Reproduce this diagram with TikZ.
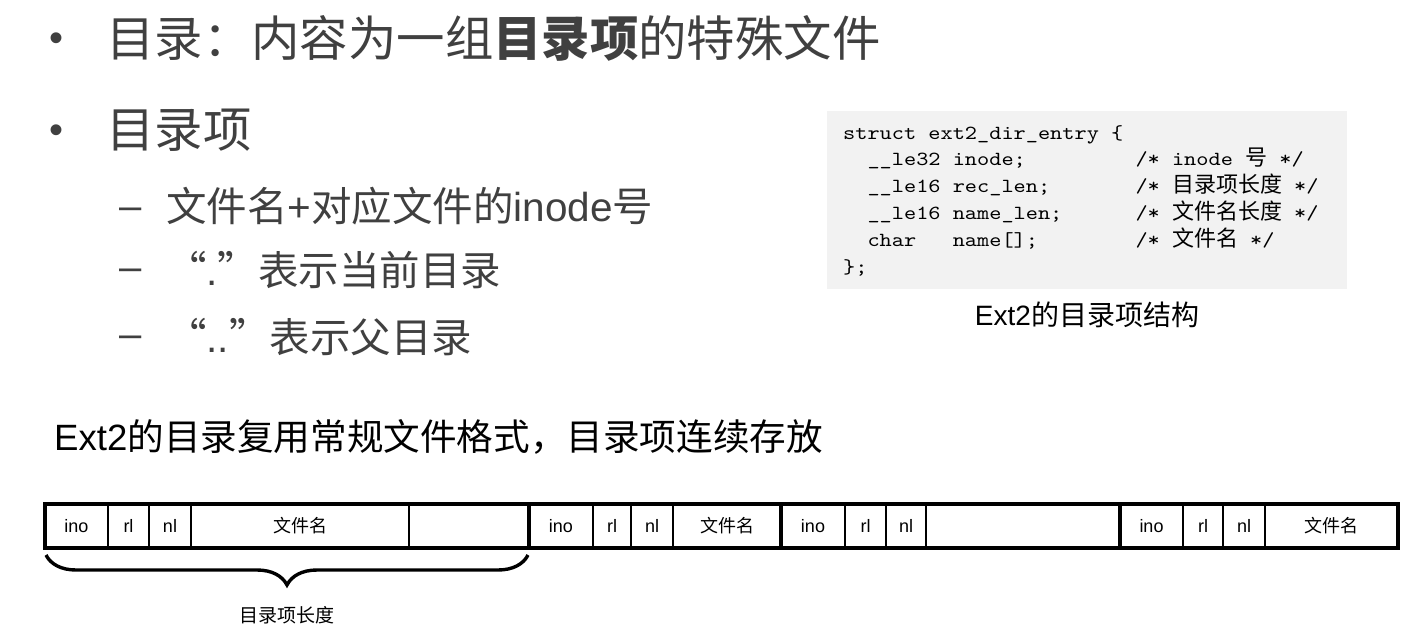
\documentclass[tikz,border=0pt]{standalone}
\usepackage{fontspec}
\setmainfont{Noto Sans CJK SC}
\newfontfamily\lat{Liberation Sans}
\setmonofont{lmmono10-regular}[Extension=.otf, FakeStretch=1.16]
\usetikzlibrary{decorations.pathreplacing}

\definecolor{slidegray}{RGB}{64,64,64}
\definecolor{codebg}{RGB}{242,242,242}
\newcommand{\fsz}[1]{\fontsize{#1}{#1}\selectfont}
\newcommand{\zh}[1]{{\rmfamily\fsz{22}#1}}

\begin{document}
\begin{tikzpicture}[x=1pt, y=-1pt,
    dotmark/.style={text=slidegray, font=\lat\fsz{40}, inner sep=0pt},
    topitem/.style={anchor=west, text=slidegray, font=\fsz{48.4}, inner sep=0pt},
    subitem/.style={anchor=west, text=slidegray, font=\fsz{40.5}, inner sep=0pt},
    codeline/.style={anchor=base west, font=\ttfamily\fsz{20}, inner sep=0pt},
    celltext/.style={font=\fsz{18}, inner sep=0pt},
    cellline/.style={line width=1.5pt},
    recline/.style={line width=4pt}]

  \useasboundingbox (0,0) rectangle (1409,630);

  %% ---- bullet list ----
  \node[dotmark] (dot1) at (57,42)  {•};
  \node[topitem] (item1) at (106,38) {目录：内容为一组\textbf{目录项}的特殊文件};
  \node[dotmark] (dot2) at (57,134) {•};
  \node[topitem] (item2) at (106,130) {目录项};

  \node[dotmark] (dash1) at (131,214) {–};
  \node[subitem] (sub1) at (166,206) {文件名{\lat +}对应文件的{\lat inode}号};
  \node[dotmark] (dash2) at (131,275) {–};
  \node[subitem] (sub2) at (166,270) {“{\lat .}”表示当前目录};
  \node[dotmark] (dash3) at (131,342) {–};
  \node[subitem] (sub3) at (166,337) {“{\lat ..}”表示父目录};

  %% ---- struct box ----
  \fill[codebg] (827,111) rectangle (1347,289);
  \node[codeline] (code1) at (843,139)   {struct ext2\_dir\_entry \{};
  \node[codeline] (code2) at (843,165.8) {\ \ \_\_le32 inode;\ \ \ \ \ \ \ \ \ /* inode \zh{号} */};
  \node[codeline] (code3) at (843,192.6) {\ \ \_\_le16 rec\_len;\ \ \ \ \ \ \ /* \zh{目录项长度} */};
  \node[codeline] (code4) at (843,219.4) {\ \ \_\_le16 name\_len;\ \ \ \ \ \ /* \zh{文件名长度} */};
  \node[codeline] (code5) at (843,246.2) {\ \ char\ \ \ name[];\ \ \ \ \ \ \ \ /* \zh{文件名} */};
  \node[codeline] (code6) at (843,273)   {\};};
  \node[font=\fsz{28}, inner sep=0pt] (caption) at (1087,315) {{\lat Ext2}的目录项结构};

  %% ---- layout sentence ----
  \node[anchor=west, font=\fsz{36.6}, inner sep=0pt] (reuse) at (54,437)
    {{\lat Ext2}的目录复用常规文件格式，目录项连续存放};

  %% ---- directory entries ----
  \foreach \l/\r/\t [count=\i] in {45/108/{\lat ino}, 108/149/{\lat rl}, 149/191/{\lat nl}, 191/409/文件名, 409/529/,
      529/593/{\lat ino}, 593/631/{\lat rl}, 631/673/{\lat nl}, 673/781/文件名,
      781/845/{\lat ino}, 845/886/{\lat rl}, 886/926/{\lat nl}, 926/1120/,
      1120/1183/{\lat ino}, 1183/1223/{\lat rl}, 1223/1265/{\lat nl}, 1265/1398/文件名}{
    \draw[cellline] (\l,504) rectangle (\r,548);
    \node[celltext] (cell\i) at ({(\l+\r)/2},526) {\t};
  }
  \foreach \l/\r in {45/529, 529/781, 781/1120, 1120/1398}
    \draw[recline] (\l,504) rectangle (\r,548);

  %% ---- rec_len brace ----
  \coordinate (rec1w) at (46,555);
  \coordinate (rec1e) at (528,555);
  \draw[line width=3.4pt, decorate, decoration={brace, mirror, amplitude=30pt}]
    (rec1w) -- (rec1e);
  \node[font=\fsz{19}, inner sep=0pt] (reclen) at (287,615) {目录项长度};

\end{tikzpicture}
\end{document}
